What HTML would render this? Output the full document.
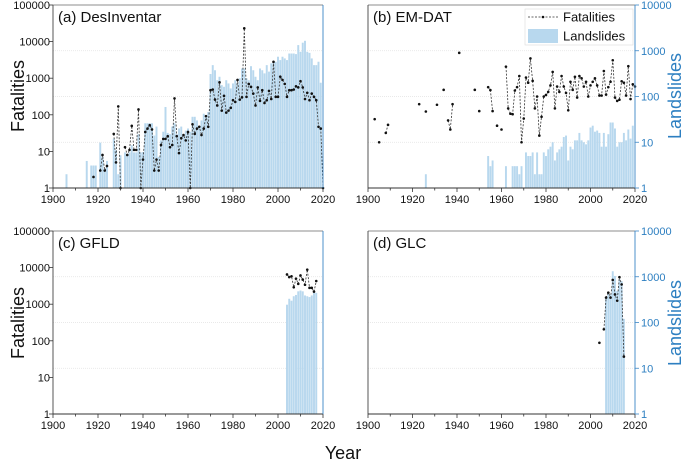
<!DOCTYPE html>
<html><head><meta charset="utf-8">
<style>
html,body{margin:0;padding:0;background:#fff;}
svg{display:block;font-family:"Liberation Sans",Arial,sans-serif;}
</style></head>
<body>
<svg id="chart" width="685" height="464" viewBox="0 0 685 464" xmlns="http://www.w3.org/2000/svg">
<text x="0" y="0" transform="translate(24,96) rotate(-90)" text-anchor="middle" font-size="18" fill="#111">Fatalities</text>
<text x="0" y="0" transform="translate(24,323) rotate(-90)" text-anchor="middle" font-size="18" fill="#111">Fatalities</text>
<text x="0" y="0" transform="translate(681,96) rotate(-90)" text-anchor="middle" font-size="18" fill="#2d7fc1">Landslides</text>
<text x="0" y="0" transform="translate(681,323) rotate(-90)" text-anchor="middle" font-size="18" fill="#2d7fc1">Landslides</text>
<text x="343" y="459" text-anchor="middle" font-size="18" fill="#111">Year</text>
</svg>
<script>
// Panel (a) DesInventar
const aLandYears=[1906,1915,1917,1918,1919,1921,1922,1923,1924,1927,1928,1929,1930,1932,1933,1934,1935,1936,1937,1938,1939,1940,1941,1942,1943,1944,1945,1946,1947,1948,1949,1950,1951,1952,1953,1954,1955,1956,1957,1958,1959,1960,1961,1962,1963,1964,1965,1966,1967,1968,1969,1970,1971,1972,1973,1974,1975,1976,1977,1978,1979,1980,1981,1982,1983,1984,1985,1986,1987,1988,1989,1990,1991,1992,1993,1994,1995,1996,1997,1998,1999,2000,2001,2002,2003,2004,2005,2006,2007,2008,2009,2010,2011,2012,2013,2014,2015,2016,2017,2018,2019];
const aLandVals=[2,3.9,3.1,3.1,3.1,9.8,4.8,2.6,3.9,12,6.7,2,5.2,6,5,6,8.6,6,6,15,6,6.1,26,26,26,26,14,22,4.8,11,17,59,16,15,22,26,15,20,22,15,18,20,17,36,36,30,22,30,42,39,46,310,485,375,227,270,177,163,227,193,150,193,227,193,250,410,410,250,227,460,375,270,227,410,375,320,485,350,530,575,575,740,625,740,680,625,870,870,870,845,1330,950,1500,1650,950,900,680,485,485,575,200];
const aFatYears=[1918,1921,1922,1923,1924,1927,1928,1929,1930,1932,1933,1934,1935,1936,1937,1938,1939,1940,1941,1942,1943,1944,1945,1946,1947,1948,1949,1950,1951,1952,1953,1954,1955,1956,1957,1958,1959,1960,1961,1962,1963,1964,1965,1966,1967,1968,1969,1970,1971,1972,1973,1974,1975,1976,1977,1978,1979,1980,1981,1982,1983,1984,1985,1986,1987,1988,1989,1990,1991,1992,1993,1994,1995,1996,1997,1998,1999,2000,2001,2002,2003,2004,2005,2006,2007,2008,2009,2010,2011,2012,2013,2014,2015,2016,2017,2018,2019,2020];
const aFatVals=[2,3,8,3,4,30,5,170,1,13,8,11,50,11,11,140,1,6,34,42,52,40,3,6,3,15,22,22,26,13,15,280,26,9,23,28,20,34,1,55,30,42,47,28,42,92,47,470,490,260,180,770,130,330,115,130,155,250,225,900,260,300,23000,310,700,580,380,180,560,240,470,210,250,450,270,2800,310,310,1100,900,700,310,470,470,490,600,560,830,560,270,400,250,380,310,250,47,42,1];
// Panel (b) EM-DAT
const bLandYears=[1926,1954,1955,1956,1962,1965,1966,1967,1968,1969,1971,1972,1973,1974,1975,1976,1977,1978,1979,1980,1981,1982,1983,1984,1985,1986,1987,1988,1989,1990,1991,1992,1993,1994,1995,1996,1997,1998,1999,2000,2001,2002,2003,2004,2005,2006,2007,2008,2009,2010,2011,2012,2013,2014,2015,2016,2017,2018,2019];
const bLandVals=[2,5,3,4,3,3,3,3,2,3,6,5,5,6,2,6,2,2,6,5,7,8,10,4,6,7,8,13,14,4,8,7,11,11,16,11,10,9,11,21,23,17,18,16,8,16,8,15,27,27,20,8,10,10,16,11,19,12,23];
const bFatYears=[1903,1905,1908,1909,1923,1926,1931,1934,1936,1937,1938,1941,1948,1950,1954,1955,1956,1958,1960,1962,1963,1964,1965,1966,1967,1968,1969,1970,1971,1972,1973,1974,1975,1976,1977,1978,1979,1980,1981,1982,1983,1984,1985,1986,1987,1988,1989,1990,1991,1992,1993,1994,1995,1996,1997,1998,1999,2000,2001,2002,2003,2004,2005,2006,2007,2008,2009,2010,2011,2012,2013,2014,2015,2016,2017,2018,2019,2020];
const bFatVals=[32,10,16,24,68,47,66,140,30,19,68,900,140,48,160,138,48,23,19,450,55,42,41,135,160,280,10,33,260,200,680,220,55,100,14,36,100,108,126,175,345,55,165,126,280,165,120,50,210,140,270,95,280,250,165,210,100,175,210,250,175,105,105,360,110,160,210,620,95,80,85,215,200,105,460,88,185,165];
// Panel (c) GFLD
const cLandYears=[2004,2005,2006,2007,2008,2009,2010,2011,2012,2013,2014,2015,2016,2017];
const cLandVals=[245,330,300,375,400,480,500,480,390,375,360,390,445,445];
const cFatYears=[2004,2005,2006,2007,2008,2009,2010,2011,2012,2013,2014,2015,2016,2017];
const cFatVals=[6500,5500,5800,2900,5000,3600,6100,4700,3400,8800,2800,2800,2200,4300];
// Panel (d) GLC
const dLandYears=[2007,2008,2009,2010,2011,2012,2013,2014,2015];
const dLandVals=[350,450,410,1320,1040,490,880,800,120];
const dFatYears=[2004,2006,2007,2008,2009,2010,2011,2012,2013,2014,2015];
const dFatVals=[36,71,350,450,350,850,410,300,980,680,18];
const xTickLabels=["1900","1920","1940","1960","1980","2000","2020"];
const leftTickLabels=["1","10","100","1000","10000","100000"];
const rightTickLabels=["1","10","100","1000","10000"];

const NS="http://www.w3.org/2000/svg";
const svg=document.getElementById('chart');
function mk(tag,attrs,parent){const e=document.createElementNS(NS,tag);for(const k in attrs)e.setAttribute(k,attrs[k]);(parent||svg).appendChild(e);return e;}

function panel(p){
  const g=mk('g',{});
  
  
  const xs=y=>p.x0+(y-1900)/120*(p.x1-p.x0);
  const yl=v=>p.y1-Math.log10(Math.max(v,1))/5*(p.y1-p.y0);
  const yr=v=>p.y1-Math.log10(Math.max(v,1))/4*(p.y1-p.y0);
  const yf=p.fatRight?yr:yl;
  // grid (right axis)
  for(let i=1;i<4;i++){const yy=p.y1-i/4*(p.y1-p.y0);
    const gl=mk('line',{x1:p.x0,x2:p.x1,y1:yy,y2:yy,stroke:'#e2e2e2','stroke-width':0.8,'stroke-dasharray':'1,1'},g);
    
    }
  // bars
  const bw=(p.x1-p.x0)/120;
  p.landYears.forEach((yv,i)=>{
    const top=yr(p.landVals[i]);
    const r=mk('rect',{x:xs(yv)-bw/2+0.15,y:top,width:bw-0.3,height:p.y1-top,fill:'#b8d8ee'},g);
    
    
  });
  // fatalities lines
  let d='';
  p.fatYears.forEach((yv,i)=>{
    const cmd=(i>0&&p.fatYears[i-1]===yv-1)?'L':'M';
    d+=cmd+xs(yv).toFixed(1)+','+yf(p.fatVals[i]).toFixed(1)+' ';
  });
  const pl=mk('path',{d:d,fill:'none',stroke:'#333','stroke-width':0.8,'stroke-dasharray':'2,1.5'},g);
  
  
  p.fatYears.forEach((yv,i)=>{
    const c=mk('circle',{cx:xs(yv),cy:yf(p.fatVals[i]),r:1.3,fill:'#111'},g);
    
    
  });
  // frame
  mk('line',{x1:p.x0,x2:p.x1,y1:p.y0,y2:p.y0,stroke:'#666','stroke-width':0.8},g);
  mk('line',{x1:p.x0,x2:p.x0,y1:p.y0,y2:p.y1,stroke:'#444','stroke-width':0.9},g);
  mk('line',{x1:p.x0,x2:p.x1,y1:p.y1,y2:p.y1,stroke:'#333','stroke-width':0.9},g);
  mk('line',{x1:p.x1,x2:p.x1,y1:p.y0,y2:p.y1,stroke:'#3a86c6','stroke-width':0.9},g);
  // x ticks
  for(let yv=1900;yv<=2020;yv+=10){
    const big=yv%20===0;
    mk('line',{x1:xs(yv),x2:xs(yv),y1:p.y1,y2:p.y1+(big?4:2.5),stroke:'#333','stroke-width':0.8},g);
  }
  xTickLabels.forEach(s=>{
    const t=mk('text',{x:xs(+s),y:p.y1+15,'text-anchor':'middle','font-size':11,fill:'#111'},g);
    t.textContent=s;
    
    
  });
  if(p.leftAxis){
    leftTickLabels.forEach((s,i)=>{
      const yy=p.y1-i/5*(p.y1-p.y0);
      mk('line',{x1:p.x0-4,x2:p.x0,y1:yy,y2:yy,stroke:'#333','stroke-width':0.8},g);
      const t=mk('text',{x:p.x0-3,y:yy+4,'text-anchor':'end','font-size':11,fill:'#111'},g);
      t.textContent=s;
      
      
    });
  }
  if(p.rightAxis){
    rightTickLabels.forEach((s,i)=>{
      const yy=p.y1-i/4*(p.y1-p.y0);
      mk('line',{x1:p.x1,x2:p.x1+4,y1:yy,y2:yy,stroke:'#3a86c6','stroke-width':0.8},g);
      const t=mk('text',{x:p.x1+6,y:yy+4,'font-size':11,fill:'#2d7fc1'},g);
      t.textContent=s;
      
      
    });
  }
  const lab=mk('text',{x:p.x0+5,y:p.y0+17,'font-size':15,fill:'#111'},g);
  lab.textContent=p.label;
  
  
}
panel({key:'a',label:'(a) DesInventar',x0:53,x1:323,y0:5,y1:188,landYears:aLandYears,landVals:aLandVals,fatYears:aFatYears,fatVals:aFatVals,leftAxis:true,rightAxis:false,fatRight:false});
panel({key:'b',label:'(b) EM-DAT',x0:368,x1:635,y0:5,y1:188,landYears:bLandYears,landVals:bLandVals,fatYears:bFatYears,fatVals:bFatVals,leftAxis:false,rightAxis:true,fatRight:true});
panel({key:'c',label:'(c) GFLD',x0:53,x1:323,y0:231,y1:414,landYears:cLandYears,landVals:cLandVals,fatYears:cFatYears,fatVals:cFatVals,leftAxis:true,rightAxis:false,fatRight:false});
panel({key:'d',label:'(d) GLC',x0:368,x1:635,y0:231,y1:414,landYears:dLandYears,landVals:dLandVals,fatYears:dFatYears,fatVals:dFatVals,leftAxis:false,rightAxis:true,fatRight:true});

// legend
const lg=mk('g',{});


mk('rect',{x:525,y:9,width:108,height:36,fill:'#fff',stroke:'#ddd','stroke-width':0.6},lg);
mk('line',{x1:528,x2:558,y1:17,y2:17,stroke:'#333','stroke-width':0.8,'stroke-dasharray':'2,1.5'},lg);
mk('circle',{cx:543,cy:17,r:1.3,fill:'#111'},lg);
const l1=mk('text',{x:563,y:21.5,'font-size':13,fill:'#111'},lg);
l1.textContent='Fatalities';


mk('rect',{x:528,y:29,width:30,height:14,fill:'#b8d8ee'},lg);
const l2=mk('text',{x:563,y:40.5,'font-size':13,fill:'#111'},lg);
l2.textContent='Landslides';


</script>
</body></html>
